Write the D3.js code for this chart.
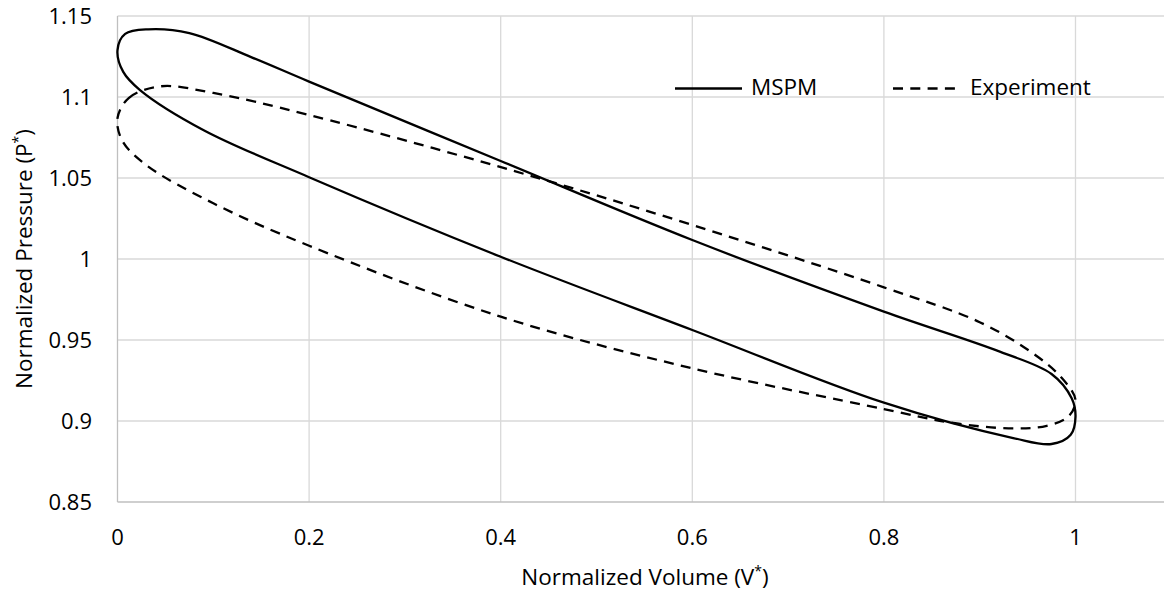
<!DOCTYPE html>
<html><head><meta charset="utf-8">
<script src="https://cdn.jsdelivr.net/npm/d3@7"></script>
<style>body{margin:0;background:#fff}svg{display:block}text{font-family:"Open Sans",sans-serif;fill:#000}</style>
</head><body><svg id="c" width="1164" height="592"></svg>
<script>
const xTicks=[0,0.2,0.4,0.6,0.8,1];
const yTicks=[0.85,0.9,0.95,1,1.05,1.1,1.15];
const seriesNames=["MSPM","Experiment"];
// closed loops, points in order around the loop
const mspmV=[0,0.008,0.032,0.075,0.14,0.2,0.4,0.6,0.8,0.921,0.975,0.996,1.0,0.995,0.975,0.935,0.8,0.6,0.4,0.2,0.09,0.0235,0.006];
const mspmP=[1.129,1.139,1.1418,1.1395,1.1245,1.1095,1.0605,1.0117,0.9675,0.9428,0.929,0.914,0.9027,0.8915,0.8858,0.8895,0.9113,0.9562,1.0014,1.0505,1.0795,1.1043,1.1155];
const expV=[0,0.012,0.045,0.1,0.2,0.41,0.6,0.8,0.9,0.955,0.985,1.0,0.993,0.97,0.93,0.87,0.8,0.6,0.4,0.2,0.1,0.03,0.005];
const expP=[1.087,1.0995,1.1066,1.1025,1.0889,1.055,1.021,0.9825,0.961,0.942,0.927,0.913,0.903,0.897,0.8955,0.899,0.9074,0.9325,0.9644,1.0082,1.0344,1.058,1.073];

const svg=d3.select("#c");
const L=117.5,R=1164,T=16,B=502;
const x=d3.scaleLinear().domain([0,1]).range([L,1075.5]);
const y=d3.scaleLinear().domain([0.85,1.15]).range([B,T]);

// grid
svg.append("g").selectAll("line").data(xTicks.slice(1)).join("line")
 .attr("x1",d=>x(d)).attr("x2",d=>x(d)).attr("y1",T).attr("y2",B)
 .attr("stroke","#d9d9d9").attr("stroke-width",1.3);
svg.append("g").selectAll("line").data(yTicks.slice(1)).join("line")
 .attr("x1",L).attr("x2",R).attr("y1",d=>y(d)).attr("y2",d=>y(d))
 .attr("stroke","#d9d9d9").attr("stroke-width",1.3);
// axes lines
svg.append("line").attr("x1",L).attr("x2",L).attr("y1",T).attr("y2",B).attr("stroke","#bfbfbf").attr("stroke-width",1.3);
svg.append("line").attr("x1",L).attr("x2",R).attr("y1",B).attr("y2",B).attr("stroke","#bfbfbf").attr("stroke-width",1.3);

// tick labels
const fmt=d=>String(+d.toFixed(2));
svg.append("g").selectAll("text").data(xTicks).join("text")
 .attr("x",d=>x(d)).attr("y",545).attr("text-anchor","middle").attr("font-size",22).text(fmt);
svg.append("g").selectAll("text").data(yTicks).join("text")
 .attr("x",92).attr("y",d=>y(d)+8).attr("text-anchor","end").attr("font-size",22).text(fmt);

// axis titles
const xt=svg.append("text").attr("x",645).attr("y",585).attr("text-anchor","middle").attr("font-size",22.5);
xt.append("tspan").text("Normalized Volume (V");
xt.append("tspan").attr("dy",-9).attr("font-size",14).text("*");
xt.append("tspan").attr("dy",9).text(")");
const yt=svg.append("text").attr("transform","translate(32,259) rotate(-90)").attr("text-anchor","middle").attr("font-size",22.5);
yt.append("tspan").text("Normalized Pressure (P");
yt.append("tspan").attr("dy",-9).attr("font-size",14).text("*");
yt.append("tspan").attr("dy",9).text(")");

// curves
const line=d3.line().x(d=>x(d[0])).y(d=>y(d[1])).curve(d3.curveCatmullRomClosed.alpha(0.5));
const mspm=mspmV.map((v,i)=>[v,mspmP[i]]);
const exp=expV.map((v,i)=>[v,expP[i]]);
svg.append("path").attr("d",line(mspm)).attr("fill","none").attr("stroke","#000").attr("stroke-width",2.3);
svg.append("path").attr("d",line(exp)).attr("fill","none").attr("stroke","#000").attr("stroke-width",2.3).attr("stroke-dasharray","10,7.3");

// legend
const lg=svg.append("g");
lg.append("line").attr("x1",675).attr("x2",742).attr("y1",88.5).attr("y2",88.5).attr("stroke","#000").attr("stroke-width",2.3);
lg.append("text").attr("x",751).attr("y",95).attr("font-size",22.5).text(seriesNames[0]);
lg.append("line").attr("x1",893).attr("x2",956).attr("y1",88.5).attr("y2",88.5).attr("stroke","#000").attr("stroke-width",2.3).attr("stroke-dasharray","10,7.3");
lg.append("text").attr("x",970).attr("y",95).attr("font-size",22.5).text(seriesNames[1]);
</script></body></html>
